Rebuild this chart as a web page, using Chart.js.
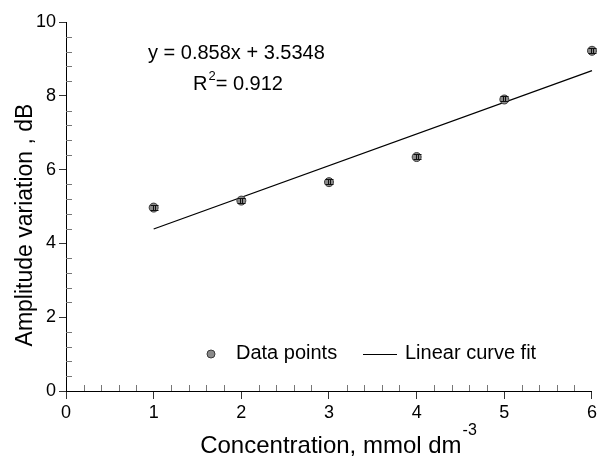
<!DOCTYPE html>
<html>
<head>
<meta charset="utf-8">
<script src="https://cdn.jsdelivr.net/npm/chart.js@4/dist/chart.umd.min.js"></script>
<style>
  body { margin: 0; background: #fff; }
  canvas { display: block; }
</style>
</head>
<body>
<canvas id="chart" width="600" height="460"></canvas>
<script>
// values
const concentration = [1, 2, 3, 4, 5, 6];
const amplitude = [4.97, 5.16, 5.66, 6.34, 7.90, 9.22];
const fitX = [1, 6];
const fitY = [4.39, 8.68];
const xTicks = [0, 1, 2, 3, 4, 5, 6];
const yTicks = [0, 2, 4, 6, 8, 10];

const FONT = "'Liberation Sans', Arial, sans-serif";

function toPoints(xs, ys) {
    return xs.map((x, i) => ({ x: x, y: ys[i] }));
}

// minor ticks point inwards, major ones outwards
const minorTicks = {
    id: 'minorTicks',
    afterDraw(chart) {
        const ctx = chart.ctx;
        const xs = chart.scales.x, ys = chart.scales.y;
        const area = chart.chartArea;
        ctx.save();
        ctx.strokeStyle = '#777';
        ctx.lineWidth = 1;
        ctx.beginPath();
        for (let v = 0.2; v < 6; v += 0.2) {
            if (Math.abs(v - Math.round(v)) < 0.01) continue;
            const px = Math.round(xs.getPixelForValue(v)) + 0.5;
            ctx.moveTo(px, area.bottom);
            ctx.lineTo(px, area.bottom - 6);
        }
        for (let v = 0.4; v < 10; v += 0.4) {
            if (Math.abs(v / 2 - Math.round(v / 2)) < 0.01) continue;
            const py = Math.round(ys.getPixelForValue(v)) + 0.5;
            ctx.moveTo(area.left, py);
            ctx.lineTo(area.left + 6, py);
        }
        ctx.stroke();
        ctx.restore();
    }
};

// small error bars on the data points
const errorBars = {
    id: 'errorBars',
    afterDatasetsDraw(chart) {
        const ctx = chart.ctx;
        const meta = chart.getDatasetMeta(1);
        ctx.save();
        ctx.strokeStyle = '#111';
        ctx.lineWidth = 1;
        meta.data.forEach(pt => {
            const x = Math.round(pt.x) + 0.5, y = Math.round(pt.y) + 0.5;
            ctx.beginPath();
            ctx.moveTo(x - 4, y - 3); ctx.lineTo(x + 4, y - 3);
            ctx.moveTo(x - 4, y + 2); ctx.lineTo(x + 4, y + 2);
            ctx.moveTo(x - 1, y - 3); ctx.lineTo(x - 1, y + 2);
            ctx.moveTo(x + 1, y - 3); ctx.lineTo(x + 1, y + 2);
            ctx.stroke();
        });
        ctx.restore();
    }
};

// axis titles, equation and the legend inside the plot
const annotations = {
    id: 'annotations',
    afterDraw(chart) {
        const ctx = chart.ctx;
        ctx.save();
        ctx.fillStyle = '#000';
        ctx.textBaseline = 'alphabetic';

        // x title with superscript
        const main = 'Concentration, mmol dm';
        const sup = '-3';
        ctx.font = '24px ' + FONT;
        const wMain = ctx.measureText(main).width;
        ctx.font = '16px ' + FONT;
        const wSup = ctx.measureText(sup).width;
        const x0 = 338 - (wMain + wSup) / 2;
        ctx.font = '24px ' + FONT;
        ctx.textAlign = 'left';
        ctx.fillText(main, x0, 453);
        ctx.font = '16px ' + FONT;
        ctx.fillText(sup, x0 + wMain + 1, 435);

        // y title
        ctx.save();
        ctx.translate(32, 225);
        ctx.rotate(-Math.PI / 2);
        ctx.font = '23px ' + FONT;
        ctx.textAlign = 'center';
        ctx.fillText('Amplitude variation , dB', 0, 0);
        ctx.restore();

        // regression text
        ctx.textAlign = 'left';
        ctx.font = '20px ' + FONT;
        ctx.fillText('y = 0.858x + 3.5348', 148, 59);
        ctx.fillText('R', 193, 90);
        let rx = 193 + ctx.measureText('R').width;
        ctx.font = '13px ' + FONT;
        ctx.fillText('2', rx + 1, 80);
        rx += ctx.measureText('2').width + 1;
        ctx.font = '20px ' + FONT;
        ctx.fillText('= 0.912', rx, 90);

        // legend
        ctx.beginPath();
        ctx.arc(211, 354, 4, 0, Math.PI * 2);
        ctx.fillStyle = '#8a8a8a';
        ctx.fill();
        ctx.strokeStyle = '#3a3a3a';
        ctx.lineWidth = 1;
        ctx.stroke();
        ctx.fillStyle = '#000';
        ctx.fillText('Data points', 236, 359);
        ctx.beginPath();
        ctx.moveTo(363, 354.5);
        ctx.lineTo(397, 354.5);
        ctx.strokeStyle = '#000';
        ctx.stroke();
        ctx.fillText('Linear curve fit', 405, 359);

        ctx.restore();
    }
};

new Chart(document.getElementById('chart'), {
    type: 'scatter',
    data: {
        datasets: [{
            label: 'Linear curve fit',
            data: toPoints(fitX, fitY),
            showLine: true,
            borderColor: '#000',
            borderWidth: 1.3,
            pointRadius: 0,
            clip: false,
            order: 2
        }, {
            label: 'Data points',
            data: toPoints(concentration, amplitude),
            pointRadius: 4.5,
            backgroundColor: '#8a8a8a',
            borderColor: '#3a3a3a',
            borderWidth: 1,
            clip: false,
            order: 1
        }]
    },
    options: {
        responsive: false,
        animation: false,
        layout: { padding: { top: 22, right: 7, left: 0, bottom: 0 } },
        plugins: {
            legend: { display: false },
            tooltip: { enabled: false }
        },
        scales: {
            x: {
                type: 'linear',
                min: 0,
                max: 6,
                afterBuildTicks: axis => { axis.ticks = xTicks.map(v => ({ value: v })); },
                afterFit: axis => { axis.height = 69; },
                ticks: {
                    color: '#000',
                    font: { family: FONT, size: 18 },
                    padding: 3
                },
                grid: {
                    drawOnChartArea: false,
                    drawTicks: true,
                    tickLength: 8,
                    color: '#333'
                },
                border: { display: true, color: '#000', width: 1 }
            },
            y: {
                min: 0,
                max: 10,
                afterBuildTicks: axis => { axis.ticks = yTicks.map(v => ({ value: v })); },
                afterFit: axis => { axis.width = 66; },
                ticks: {
                    color: '#000',
                    font: { family: FONT, size: 18 },
                    padding: 3
                },
                grid: {
                    drawOnChartArea: false,
                    drawTicks: true,
                    tickLength: 7,
                    color: '#333'
                },
                border: { display: true, color: '#000', width: 1 }
            }
        }
    },
    plugins: [minorTicks, errorBars, annotations]
});
</script>
</body>
</html>
